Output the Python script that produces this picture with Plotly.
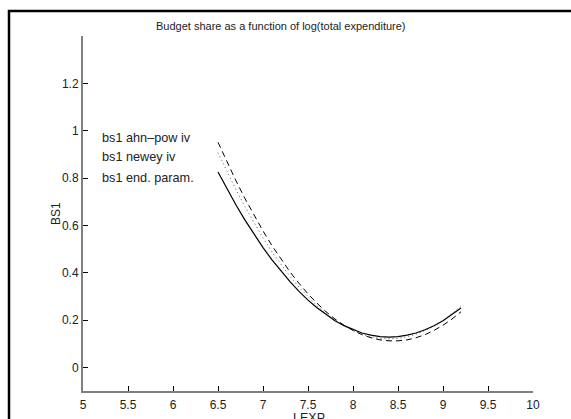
import plotly.graph_objects as go

lexp = [6.5, 6.6, 6.7, 6.8, 6.9, 7.0, 7.1, 7.2, 7.3, 7.4, 7.5, 7.6, 7.7, 7.8,
        7.9, 8.0, 8.1, 8.2, 8.3, 8.4, 8.5, 8.6, 8.7, 8.8, 8.9, 9.0, 9.1, 9.2]

bs1_ahn_pow = [0.951, 0.867, 0.788, 0.713, 0.642, 0.576, 0.514, 0.456, 0.403, 0.355,
               0.310, 0.271, 0.235, 0.204, 0.178, 0.156, 0.138, 0.125, 0.116, 0.112,
               0.112, 0.116, 0.125, 0.138, 0.156, 0.178, 0.204, 0.235]

bs1_newey = [0.907, 0.826, 0.750, 0.678, 0.611, 0.547, 0.488, 0.434, 0.384, 0.338,
             0.297, 0.260, 0.227, 0.198, 0.175, 0.155, 0.140, 0.129, 0.122, 0.120,
             0.122, 0.129, 0.140, 0.155, 0.175, 0.198, 0.227, 0.260]

bs1_end_param = [0.825, 0.753, 0.686, 0.622, 0.562, 0.506, 0.454, 0.406, 0.362, 0.321,
                 0.284, 0.252, 0.223, 0.197, 0.176, 0.159, 0.145, 0.136, 0.130, 0.128,
                 0.130, 0.136, 0.145, 0.159, 0.176, 0.197, 0.223, 0.251]

legend_labels = ["bs1 ahn\u2013pow iv", "bs1 newey iv", "bs1 end. param."]
x_ticks = [5, 5.5, 6, 6.5, 7, 7.5, 8, 8.5, 9, 9.5, 10]
y_ticks = [0, 0.2, 0.4, 0.6, 0.8, 1, 1.2]

FONT = "Liberation Sans, Arial, Helvetica, sans-serif"
TXT = "#222222"

fig = go.Figure()
fig.add_trace(go.Scatter(x=lexp, y=bs1_ahn_pow, mode="lines", name=legend_labels[0],
                         line=dict(color="black", width=1, dash="6px,4px")))
fig.add_trace(go.Scatter(x=lexp, y=bs1_newey, mode="lines", name=legend_labels[1],
                         line=dict(color="#555555", width=1, dash="1px,3px")))
fig.add_trace(go.Scatter(x=lexp, y=bs1_end_param, mode="lines", name=legend_labels[2],
                         line=dict(color="black", width=1.2)))

fig.update_layout(
    width=571, height=419,
    margin=dict(l=83, r=38, t=36, b=28),
    paper_bgcolor="white", plot_bgcolor="white",
    showlegend=False,
    font=dict(family=FONT, size=12, color=TXT),
)
fig.update_xaxes(range=[5, 10], tickvals=x_ticks, ticktext=[str(v) for v in x_ticks],
                 showgrid=False, zeroline=False, showline=True, linecolor="#808080",
                 linewidth=2, ticks="inside", ticklen=5, tickcolor="black", tickwidth=1,
                 ticklabelstandoff=2, automargin=False,
                 tickfont=dict(size=12, family=FONT, color=TXT))
fig.update_yaxes(range=[-0.1, 1.4], tickvals=y_ticks, ticktext=[("%g" % v) for v in y_ticks],
                 showgrid=False, zeroline=False, showline=True, linecolor="#808080",
                 linewidth=2, ticks="inside", ticklen=5, tickcolor="black", tickwidth=1,
                 automargin=False,
                 tickfont=dict(size=12, family=FONT, color=TXT))

# outer frame
fig.add_shape(type="rect", xref="paper", yref="paper",
              x0=(9 - 83) / 450, x1=(580 - 83) / 450,
              y0=(391 - 430) / 355, y1=(391 - 11) / 355,
              line=dict(color="black", width=2.5), layer="below")

# title
fig.add_annotation(text="Budget share as a function of log(total expenditure)",
                   xref="paper", yref="paper", x=(281 - 83) / 450, y=(391 - 26) / 355,
                   showarrow=False, xanchor="center", yanchor="middle",
                   font=dict(size=11, family=FONT, color=TXT))
# axis titles
fig.add_annotation(text="BS1", xref="paper", yref="paper", x=(56 - 83) / 450,
                   y=(391 - 214) / 355, textangle=-90, showarrow=False,
                   xanchor="center", yanchor="middle",
                   font=dict(size=12, family=FONT, color=TXT))
fig.add_annotation(text="LEXP", xref="paper", yref="paper", x=(309 - 83) / 450,
                   y=(391 - 418.5) / 355, showarrow=False, xanchor="center",
                   yanchor="middle", font=dict(size=12.5, family=FONT, color=TXT))

# legend text
for lbl, py in zip(legend_labels, [138, 157, 178]):
    fig.add_annotation(text=lbl, xref="paper", yref="paper", x=(100 - 83) / 450,
                       y=(391 - py) / 355, showarrow=False, xanchor="left",
                       yanchor="middle", font=dict(size=12.7, family=FONT, color=TXT))

fig.write_html("out.html",
               config={"displayModeBar": False},
               post_script="document.body.style.margin='0';document.body.style.overflow='hidden';")
